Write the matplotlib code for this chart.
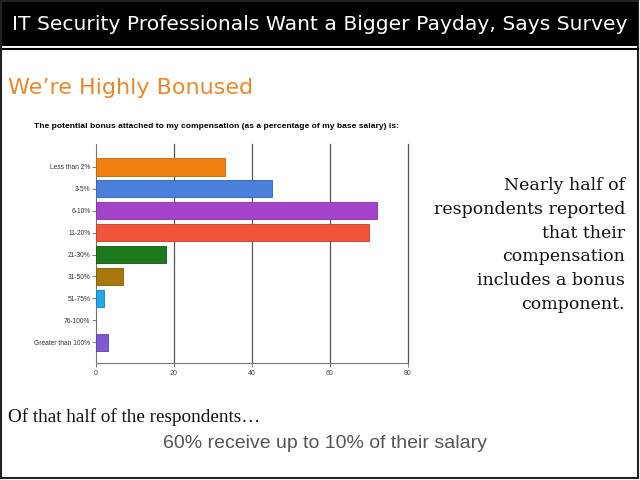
import matplotlib
matplotlib.use("Agg")
import matplotlib.pyplot as plt
from matplotlib.patches import Rectangle
from matplotlib.lines import Line2D

categories = ["Less than 2%", "3-5%", "6-10%", "11-20%", "21-30%", "31-50%",
              "51-75%", "76-100%", "Greater than 100%"]
values = [33, 45, 72, 70, 18, 7, 2, 0, 3]
colors = ["#F08010", "#4A7FDB", "#A443C9", "#F0553A", "#1C7A1C", "#A8780C",
          "#22A8E8", "#888888", "#8058D0"]
edges = ["#C86400", "#3460B8", "#8430A8", "#C83C24", "#0E5A0E", "#805A04",
         "#1080C0", "#666666", "#6040B0"]
xticks = [0, 20, 40, 60, 80]

W, H = 640, 480
fig = plt.figure(figsize=(6.4, 4.8), dpi=100)

def fx(px):
    return px / W

def fy(py):
    return 1 - py / H

# outer border
fig.add_artist(Rectangle((fx(1), fy(478)), fx(637), 477 / H, transform=fig.transFigure,
                         facecolor="none", edgecolor="#222222", lw=1.5))
# title bar
fig.add_artist(Rectangle((fx(2), fy(46)), fx(636), 44 / H, transform=fig.transFigure,
                         facecolor="black", edgecolor="none"))
fig.add_artist(Line2D([fx(2), fx(638)], [fy(48.5), fy(48.5)], transform=fig.transFigure,
                      color="black", lw=1.5))
fig.text(fx(320), fy(25), "IT Security Professionals Want a Bigger Payday, Says Survey",
         color="white", fontsize=14.6, ha="center", va="center", family="DejaVu Sans")

fig.text(fx(8), fy(88), "We\u2019re Highly Bonused", color="#E8892F", fontsize=16,
         ha="left", va="center", family="DejaVu Sans")

fig.text(fx(34), fy(127), "The potential bonus attached to my compensation (as a percentage of my base salary) is:",
         fontsize=6.1, fontweight="bold", ha="left", va="center", family="Liberation Sans")

ax = fig.add_axes([fx(96), fy(363), (408 - 96) / W, (363 - 144) / H])
y = list(range(len(categories)))
ax.barh(y, values, height=0.78, color=colors, edgecolor=edges, linewidth=0.6, zorder=3)
ax.set_ylim(8.95, -1.05)
ax.set_xlim(0, 80)
ax.set_yticks(y)
ax.set_yticklabels(categories, fontsize=4.8, family="Liberation Sans", color="#333333")
ax.set_xticks(xticks)
ax.set_xticklabels([str(v) for v in xticks], fontsize=5, family="Liberation Sans", color="#444444")
for v in xticks[1:]:
    ax.axvline(v, color="#555555", lw=0.9, zorder=1, clip_on=False)
ax.tick_params(axis="y", length=3, width=0.6, color="#666666", pad=1)
ax.tick_params(axis="x", length=3, width=0.6, color="#666666", pad=2)
for s in ["top", "right"]:
    ax.spines[s].set_visible(False)
ax.spines["left"].set_color("#777777")
ax.spines["bottom"].set_color("#777777")
ax.spines["left"].set_linewidth(0.8)
ax.spines["bottom"].set_linewidth(0.8)

fig.text(fx(625), fy(245),
         "Nearly half of\nrespondents reported\nthat their\ncompensation\nincludes a bonus\ncomponent.",
         fontsize=12.5, ha="right", va="center", family="DejaVu Serif", color="#111111",
         linespacing=1.52)

fig.text(fx(8), fy(417), "Of that half of the respondents\u2026", fontsize=13.8, ha="left",
         va="center", family="Liberation Serif", color="#111111")
fig.text(fx(325), fy(443), "60% receive up to 10% of their salary", fontsize=14,
         ha="center", va="center", family="Liberation Sans", color="#555555")

fig.savefig("out.png", dpi=100)
